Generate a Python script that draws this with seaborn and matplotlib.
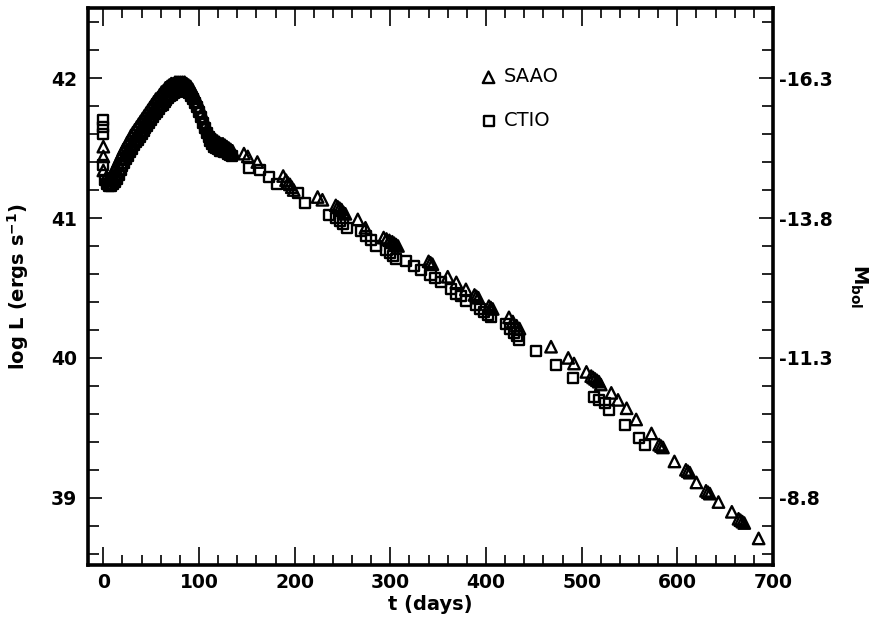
import numpy as np
import pandas as pd
import matplotlib
matplotlib.use("Agg")
import matplotlib.pyplot as plt
from matplotlib.ticker import MultipleLocator, FixedLocator
import seaborn as sns

# ---- Bolometric light curve data (days since explosion, log L in erg/s) ----
saao_t = [0, 0, 0,
          3, 5, 7, 9, 11, 13, 15, 17, 19, 21, 23, 25, 27, 29, 31, 33, 35, 37, 39,
          41, 43, 45, 47, 49, 51, 53, 55, 57, 59, 61, 63, 65, 67, 69, 71, 73, 75,
          77, 79, 81, 83, 85, 87, 89, 91, 93, 95, 97, 99, 101, 103, 105, 107, 109,
          111, 113, 115, 117, 119, 121, 123, 125, 127, 129, 131, 133, 135,
          147, 151, 161, 188, 191, 193, 195, 197, 199, 224, 229,
          243, 245, 247, 249, 251, 253, 266, 274,
          293, 296, 299, 302, 304, 306, 308, 340, 342, 344,
          360, 369, 379, 388, 390, 392, 403, 405, 407,
          424, 428, 432, 435, 468, 486, 492, 505,
          510, 512, 514, 516, 518, 520, 531, 538, 547, 557, 573,
          581, 583, 585, 597, 609, 611, 613, 620, 630, 632, 634,
          643, 657, 664, 666, 668, 670, 685]
saao_logL = [41.51, 41.44, 41.34,
             41.29, 41.28, 41.29, 41.31, 41.34, 41.37, 41.40, 41.43, 41.46, 41.49, 41.51, 41.54, 41.56, 41.59, 41.61, 41.63, 41.65, 41.67, 41.69,
             41.71, 41.73, 41.75, 41.77, 41.79, 41.81, 41.83, 41.85, 41.86, 41.88, 41.90, 41.91, 41.93, 41.94, 41.95, 41.96, 41.96, 41.97,
             41.97, 41.97, 41.97, 41.97, 41.97, 41.96, 41.95, 41.94, 41.92, 41.89, 41.86, 41.83, 41.79, 41.75, 41.71, 41.67, 41.64,
             41.61, 41.59, 41.57, 41.56, 41.55, 41.54, 41.53, 41.53, 41.52, 41.51, 41.50, 41.49, 41.48,
             41.46, 41.44, 41.40, 41.30, 41.27, 41.25, 41.24, 41.22, 41.20, 41.15, 41.13,
             41.09, 41.08, 41.07, 41.06, 41.04, 41.03, 40.99, 40.93,
             40.86, 40.85, 40.84, 40.83, 40.82, 40.81, 40.80, 40.69, 40.68, 40.67,
             40.58, 40.54, 40.49, 40.45, 40.44, 40.43, 40.37, 40.36, 40.35,
             40.29, 40.26, 40.23, 40.21, 40.08, 40.00, 39.96, 39.90,
             39.87, 39.86, 39.85, 39.84, 39.83, 39.81, 39.75, 39.70, 39.64, 39.56, 39.46,
             39.38, 39.37, 39.36, 39.26, 39.20, 39.19, 39.18, 39.11, 39.05, 39.04, 39.03,
             38.97, 38.90, 38.85, 38.84, 38.83, 38.82, 38.71]

ctio_t = [0, 0, 0, 0,
          2, 4, 6, 8, 10, 12, 14, 16, 18, 20, 22, 24, 26, 28, 30, 32, 34, 36, 38,
          40, 42, 44, 46, 48, 50, 52, 54, 56, 58, 60, 62, 64, 66, 68, 70, 72, 74,
          76, 78, 80, 82, 84, 86, 88, 90, 92, 94, 96, 98, 100, 102, 104, 106, 108,
          110, 112, 114, 116, 118, 120, 122, 124, 126, 128, 130, 132, 134,
          152, 164, 173, 182, 204, 211, 236, 243, 247, 251, 255,
          269, 275, 280, 285, 296, 300, 303, 306, 316, 325, 332,
          342, 347, 353, 363, 369, 374, 379, 390, 394, 398, 402, 405,
          421, 425, 429, 432, 435, 452, 473, 491,
          513, 518, 524, 529, 545, 560, 566]
ctio_logL = [41.70, 41.65, 41.60, 41.38,
             41.27, 41.24, 41.23, 41.23, 41.24, 41.26, 41.28, 41.31, 41.34, 41.37, 41.39, 41.42, 41.44, 41.47, 41.49, 41.52, 41.54, 41.56, 41.58,
             41.60, 41.62, 41.64, 41.66, 41.68, 41.70, 41.72, 41.74, 41.76, 41.78, 41.80, 41.81, 41.83, 41.84, 41.86, 41.87, 41.88, 41.89,
             41.90, 41.91, 41.91, 41.91, 41.91, 41.91, 41.90, 41.89, 41.87, 41.85, 41.82, 41.79, 41.76, 41.72, 41.68, 41.64, 41.61,
             41.58, 41.55, 41.53, 41.51, 41.50, 41.49, 41.48, 41.48, 41.47, 41.47, 41.46, 41.45, 41.44,
             41.36, 41.34, 41.29, 41.24, 41.18, 41.11, 41.02, 41.00, 40.98, 40.96, 40.93,
             40.91, 40.87, 40.84, 40.80, 40.77, 40.75, 40.73, 40.71, 40.69, 40.66, 40.63,
             40.59, 40.57, 40.54, 40.49, 40.46, 40.44, 40.41, 40.38, 40.35, 40.33, 40.31, 40.29,
             40.24, 40.21, 40.18, 40.16, 40.13, 40.05, 39.95, 39.86,
             39.72, 39.70, 39.68, 39.63, 39.52, 39.43, 39.38]

# Right-hand axis: bolometric magnitude at the major log L ticks
logL_major = [42, 41, 40, 39]
mbol_labels = ["-16.3", "-13.8", "-11.3", "-8.8"]

df = pd.concat([
    pd.DataFrame({"t": saao_t, "logL": saao_logL, "source": "SAAO"}),
    pd.DataFrame({"t": ctio_t, "logL": ctio_logL, "source": "CTIO"}),
], ignore_index=True)

sns.set_style("white")
plt.rcParams["font.family"] = ["DejaVu Sans"]
plt.rcParams.update({"text.color": "black", "axes.labelcolor": "black",
                     "xtick.color": "black", "ytick.color": "black"})

fig = plt.figure(figsize=(8.69, 6.25), dpi=100)
ax = fig.add_axes([0.1013, 0.096, 0.7882, 0.891])

sns.scatterplot(data=df[df.source == "CTIO"], x="t", y="logL", marker="s",
                s=52, facecolor="none", edgecolor="black", linewidth=1.7,
                ax=ax, label="CTIO", zorder=3)
sns.scatterplot(data=df[df.source == "SAAO"], x="t", y="logL", marker="^",
                s=68, facecolor="none", edgecolor="black", linewidth=1.7,
                ax=ax, label="SAAO", zorder=4)

ax.set_xlim(-16, 700)
ax.set_ylim(38.52, 42.5)

ax.xaxis.set_major_locator(MultipleLocator(100))
ax.xaxis.set_minor_locator(MultipleLocator(20))
ax.yaxis.set_major_locator(FixedLocator(logL_major))
ax.yaxis.set_minor_locator(MultipleLocator(0.2))

for sp in ax.spines.values():
    sp.set_linewidth(2.6)
    sp.set_color("black")

ax.tick_params(axis="x", which="major", direction="in", length=13, width=1.2,
               top=True, bottom=True, labelsize=13.5, pad=6)
ax.tick_params(axis="x", which="minor", direction="in", length=7, width=1.2,
               top=True, bottom=True)
ax.tick_params(axis="y", which="major", direction="in", length=10, width=1.2,
               left=True, right=False, labelsize=13.5, pad=8)
ax.tick_params(axis="y", which="minor", direction="in", length=8, width=1.2,
               left=True, right=False)
for lab in ax.get_xticklabels() + ax.get_yticklabels():
    lab.set_fontweight("bold")

ax.set_xlabel("t (days)", fontsize=14, fontweight="bold", labelpad=2)
ax.set_ylabel(r"log L (ergs s$^{\mathbf{-1}}$)", fontsize=14, fontweight="bold", labelpad=14)

# Bolometric magnitude scale on the right
ax2 = ax.twinx()
ax2.set_ylim(ax.get_ylim())
ax2.yaxis.set_major_locator(FixedLocator(logL_major))
ax2.set_yticklabels(mbol_labels, fontsize=13.5, fontweight="bold")
ax2.yaxis.set_minor_locator(MultipleLocator(0.2))
ax2.tick_params(axis="y", which="major", direction="in", length=10, width=1.2, pad=4)
ax2.tick_params(axis="y", which="minor", direction="in", length=8, width=1.2)
for sp in ax2.spines.values():
    sp.set_visible(False)
ax2.set_ylabel(r"$\mathbf{M_{bol}}$", fontsize=14, rotation=270, labelpad=27)

# Legend: triangles first, squares second, no frame
handles, labels = ax.get_legend_handles_labels()
order = [labels.index("SAAO"), labels.index("CTIO")]
leg = ax.legend([handles[i] for i in order], [labels[i] for i in order],
                loc="upper left", bbox_to_anchor=(0.545, 0.925), frameon=False,
                fontsize=14, labelspacing=1.25, handletextpad=0.3,
                handlelength=1.0, markerscale=1.0)

fig.savefig("out.png", dpi=100)
